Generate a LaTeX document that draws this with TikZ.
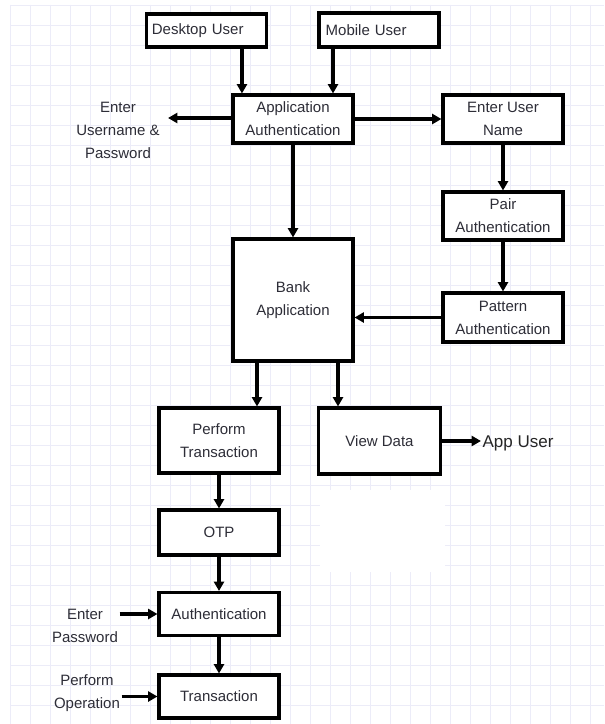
\documentclass[tikz,border=0pt]{standalone}
\usepackage{fontspec}
\setmainfont{Liberation Sans}
\usepackage{xcolor}
\usetikzlibrary{arrows.meta}
\definecolor{gridline}{RGB}{236,236,248}
\definecolor{flowtext}{RGB}{45,45,55}
\tikzset{
    flow-box/.style = {draw=black, fill=white, line width=2.3pt, rectangle, align=center, inner sep=3pt, minimum width=90pt, text=flowtext, font=\fontsize{11.25}{17.25}\selectfont},
    flow-label/.style = {align=center, inner sep=1pt, text=flowtext, font=\fontsize{11.25}{17.25}\selectfont},
    flow-arrow/.style = {line width=2.3pt, -{Triangle[length=7pt, width=7.5pt]}},
}

\begin{document}
\begin{tikzpicture}[x=0.75pt, y=-0.75pt]
\useasboundingbox (0,0) rectangle (604,724);
\fill[white] (0,0) rectangle (604,724);
\foreach \gx in {10,30,...,600} \draw[gridline, line width=0.6pt] (\gx,5) -- (\gx,724);
\foreach \gy in {5,25,...,724} \draw[gridline, line width=0.6pt] (10,\gy) -- (604,\gy);
\fill[white] (320,490) rectangle (445,572);

\node[flow-box, minimum height=24.75pt, text width=82pt, align=left] (desktop) at (206.5,30.5) {Desktop User};
\node[flow-box, minimum height=25.5pt, text width=80pt, align=left] (mobile) at (379,30) {Mobile User};
\node[flow-box, minimum height=36pt] (appauth) at (293,119) {Application\\Authentication};
\node[flow-box, minimum height=36pt] (ename) at (503,119) {Enter User\\Name};
\node[flow-box, minimum height=36pt] (pair) at (503,216) {Pair\\Authentication};
\node[flow-box, minimum height=36.75pt] (pattern) at (503,317.5) {Pattern\\Authentication};
\node[flow-box, minimum height=91.5pt] (bank) at (293,300) {Bank\\Application};
\node[flow-box, minimum height=48.75pt] (perform) at (219,440.5) {Perform\\Transaction};
\node[flow-box, minimum width=92pt, minimum height=49.5pt] (viewdata) at (379.5,441) {View Data};
\node[flow-box, minimum height=33.75pt] (otp) at (219,532.5) {OTP};
\node[flow-box, minimum height=32.25pt] (auth) at (219,614) {Authentication};
\node[flow-box, minimum height=32.25pt] (trans) at (219,696.5) {Transaction};

\node[flow-label] (unpw) at (118,130) {Enter\\Username \&\\Password};
\coordinate (unpw-tip) at (168,118);
\node[flow-label, text=black!85, font=\fontsize{12.75}{15}\selectfont] (appuser) at (518,443) {App User};
\node[flow-label] (epw) at (85,626) {Enter\\Password};
\node[flow-label] (pop) at (87,693) {Perform\\Operation};

\draw[flow-arrow] ([xshift=26.6pt]desktop.south) -- ([xshift=26.6pt]desktop.south |- appauth.north);
\draw[flow-arrow] ([xshift=-34.5pt]mobile.south) -- ([xshift=-34.5pt]mobile.south |- appauth.north);
\draw[flow-arrow] (appauth.west |- unpw-tip) -- (unpw-tip);
\draw[flow-arrow] (appauth) -- (ename);
\draw[flow-arrow] (appauth) -- (bank);
\draw[flow-arrow] (ename) -- (pair);
\draw[flow-arrow] (pair) -- (pattern);
\draw[flow-arrow] (pattern.west) -- (pattern.west -| bank.east);
\draw[flow-arrow] ([xshift=-27pt]bank.south) -- ([xshift=-27pt]bank.south |- perform.north);
\draw[flow-arrow] ([xshift=33.75pt]bank.south) -- ([xshift=33.75pt]bank.south |- viewdata.north);
\draw[flow-arrow] (viewdata.east) -- (viewdata.east -| appuser.west);
\draw[flow-arrow] (perform) -- (otp);
\draw[flow-arrow] (otp) -- (auth);
\draw[flow-arrow] (auth) -- (trans);
\draw[flow-arrow] (epw.east |- auth) -- (auth);
\draw[flow-arrow] (pop.east |- trans) -- (trans);
\end{tikzpicture}
\end{document}
